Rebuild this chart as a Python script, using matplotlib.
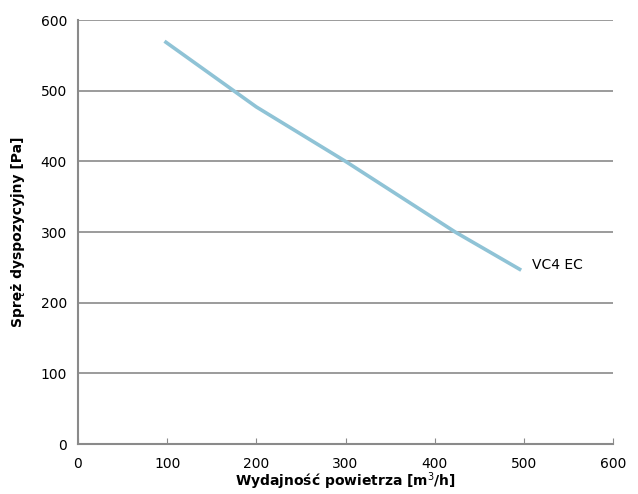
import matplotlib
matplotlib.use("Agg")
import matplotlib.pyplot as plt

flow = [97, 200, 300, 423, 497]
pressure = [570, 477, 400, 300, 246]
series_name = "VC4 EC"
x_ticks = [0, 100, 200, 300, 400, 500, 600]
y_ticks = [0, 100, 200, 300, 400, 500, 600]

plt.rcParams['font.family'] = ['DejaVu Sans']

fig = plt.figure(figsize=(6.38, 4.94), dpi=100)
ax = fig.add_axes([78 / 638, 50 / 494, 535 / 638, 424 / 494])

ax.plot(flow, pressure, color="#8fc3d6", lw=2.6, solid_capstyle="butt")
ax.text(flow[-1] + 12, pressure[-1] + 8, series_name, fontsize=10, va="center")

ax.set_xlim(0, 600)
ax.set_ylim(0, 600)
ax.set_xticks(x_ticks)
ax.set_yticks(y_ticks)
ax.yaxis.grid(True, color="#8a8a8a", lw=1.2)
ax.set_axisbelow(True)

for s in ["top", "right"]:
    ax.spines[s].set_visible(False)
for s in ["left", "bottom"]:
    ax.spines[s].set_color("#8a8a8a")
    ax.spines[s].set_linewidth(1.5)

ax.tick_params(axis="x", direction="in", length=4, color="#8a8a8a", labelsize=10, pad=9)
ax.tick_params(axis="y", length=0, labelsize=10, pad=8)

ax.set_xlabel("Wydajność powietrza [m$^3$/h]", fontsize=10, fontweight="bold", labelpad=0)
ax.set_ylabel("Spręż dyspozycyjny [Pa]", fontsize=10, fontweight="bold", labelpad=11)

fig.savefig("out.png", dpi=100)
